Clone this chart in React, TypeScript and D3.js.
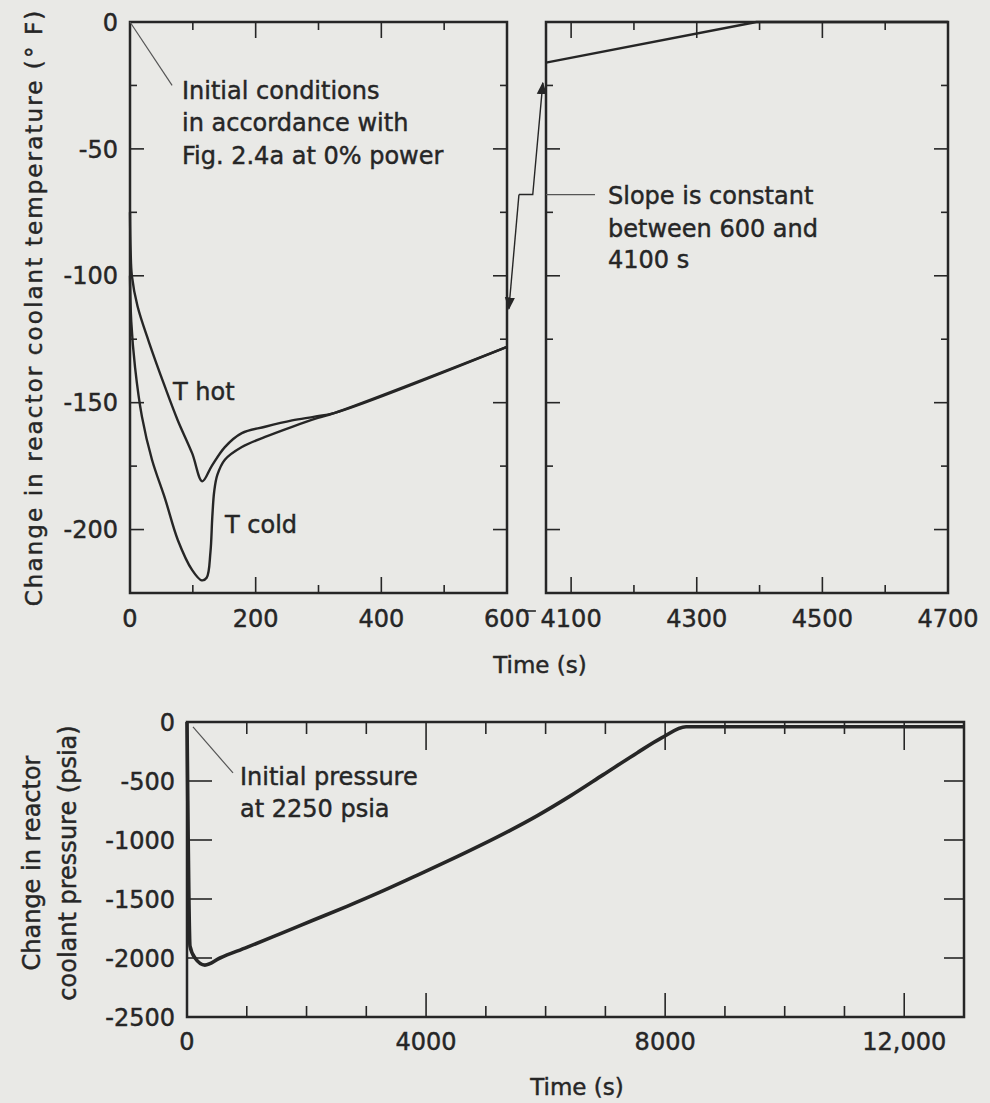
import React from 'react'
import * as d3 from 'd3'

// Temperature transient (time s, change °F)
const tHotData: [number, number][] = [
  [0, -75], [1, -90], [3, -100], [12, -112], [30, -126], [56, -144], [76, -157],
  [99, -170], [115, -181], [130, -175], [151, -167.5], [178, -162], [215, -159.5],
  [258, -157], [294, -155.5], [326, -154], [600, -128],
]
const tColdData: [number, number][] = [
  [0, -100], [2, -118], [8, -136], [19, -155.5], [35, -172.5], [56, -188], [76, -204],
  [99, -216], [114, -220], [122, -219], [128, -209], [131, -195], [134, -185],
  [139, -178.5], [151, -172.5], [178, -167.5], [215, -163.5], [258, -159.5],
  [299, -156], [326, -154], [600, -128],
]
const lateTempData: [number, number][] = [[4060, -16], [4395, 0], [4700, 0]]

// Pressure transient (time s, change psia)
const pressureData: [number, number][] = [
  [0, 0], [10, -500], [20, -1000], [32, -1500], [50, -1900], [134, -2000], [300, -2060],
  [552, -2000], [1000, -1910], [1556, -1795], [2108, -1680], [2677, -1562], [3229, -1442],
  [3781, -1315], [4350, -1182], [4900, -1048], [5400, -920], [5856, -795], [6408, -628],
  [6960, -448], [7529, -262], [7947, -132], [8350, -40], [13000, -40],
]

const leftXTicks = [0, 100, 200, 300, 400, 500, 600]
const leftXLabels = [0, 200, 400, 600]
const rightXTicks = [4100, 4200, 4300, 4400, 4500, 4600, 4700]
const rightXLabels = [4100, 4300, 4500, 4700]
const tempYTicks = [-25, -50, -75, -100, -125, -150, -175, -200]
const tempYLabels = [0, -50, -100, -150, -200]
const presXTicks = [1000, 2000, 3000, 4000, 5000, 6000, 7000, 8000, 9000, 10000, 11000, 12000]
const presXLabels = [0, 4000, 8000, 12000]
const presYTicks = [-500, -1000, -1500, -2000]
const presYLabels = [0, -500, -1000, -1500, -2000, -2500]

const INK = '#262626'
const BG = '#e9e9e6'
const FONT = '"DejaVu Sans", Verdana, sans-serif'

const W = 990
const H = 1103

// scanned print looks a touch heavier than the regular face
const txt = { fill: INK, stroke: INK, strokeWidth: 0.45 }

export default function App() {
  const xL = d3.scaleLinear().domain([0, 600]).range([130, 507])
  const xR = d3.scaleLinear().domain([4060, 4700]).range([546, 948])
  const yT = d3.scaleLinear().domain([-225, 0]).range([593, 22])
  const xP = d3.scaleLinear().domain([0, 13000]).range([187, 964])
  const yP = d3.scaleLinear().domain([-2500, 0]).range([1017, 722])

  const lineL = d3.line<[number, number]>()
    .x(d => xL(d[0])).y(d => yT(d[1]))
    .curve(d3.curveCatmullRom.alpha(0.5))
  const lineR = d3.line<[number, number]>().x(d => xR(d[0])).y(d => yT(d[1]))
  const lineP = d3.line<[number, number]>()
    .x(d => xP(d[0])).y(d => yP(d[1]))
    .curve(d3.curveMonotoneX)

  const tTopY = yT(0)
  const tBotY = yT(-225)

  const xLabelY = 627
  const fs = 24

  return (
    <svg
      width={W}
      height={H}
      style={{ position: 'absolute', left: 0, top: 0, background: BG }}
      fontFamily={FONT}
    >
      <defs>
        <marker id="ah" viewBox="0 0 10 10" refX="9" refY="5" markerWidth="9" markerHeight="9" orient="auto">
          <path d="M0,1 L10,5 L0,9 z" fill={INK} />
        </marker>
      </defs>
      <rect width={W} height={H} fill={BG} />

      {/* ---------- top left panel ---------- */}
      <rect x={xL(0)} y={tTopY} width={xL(600) - xL(0)} height={tBotY - tTopY}
        fill="none" stroke={INK} strokeWidth={2.5} />
      {leftXTicks.map(t => {
        const len = t % 200 === 0 ? 16 : 8
        return (
          <g key={'lx' + t} stroke={INK} strokeWidth={1.6}>
            <line x1={xL(t)} x2={xL(t)} y1={tBotY} y2={tBotY - len} />
            <line x1={xL(t)} x2={xL(t)} y1={tTopY} y2={tTopY + len} />
          </g>
        )
      })}
      {tempYTicks.map(v => {
        const len = v % 50 === 0 ? 14 : 7
        return (
          <g key={'ly' + v} stroke={INK} strokeWidth={1.6}>
            <line x1={xL(0)} x2={xL(0) + len} y1={yT(v)} y2={yT(v)} />
            <line x1={xL(600)} x2={xL(600) - len} y1={yT(v)} y2={yT(v)} />
          </g>
        )
      })}
      {tempYLabels.map(v => (
        <text key={'lyl' + v} x={118} y={yT(v)} dy="0.36em" textAnchor="end" fontSize={fs} {...txt}>
          {v}
        </text>
      ))}
      {leftXLabels.map(t => (
        <text key={'lxl' + t} x={xL(t)} y={xLabelY} textAnchor="middle" fontSize={fs} {...txt}>
          {t}
        </text>
      ))}

      <path d={lineL(tHotData) ?? ''} fill="none" stroke={INK} strokeWidth={2.4} />
      <path d={lineL(tColdData) ?? ''} fill="none" stroke={INK} strokeWidth={2.4} />

      <text x={173} y={400} fontSize={fs} {...txt}>T hot</text>
      <text x={225} y={533} fontSize={fs} {...txt}>T cold</text>

      <line x1={xL(0)} y1={yT(0)} x2={xL(67)} y2={yT(-25)} stroke="#555" strokeWidth={1.2} />
      <text fontSize={fs} {...txt}>
        <tspan x={182} y={99}>Initial conditions</tspan>
        <tspan x={182} y={131}>in accordance with</tspan>
        <tspan x={182} y={164}>Fig. 2.4a at 0% power</tspan>
      </text>

      {/* ---------- top right panel ---------- */}
      <rect x={xR(4060)} y={tTopY} width={xR(4700) - xR(4060)} height={tBotY - tTopY}
        fill="none" stroke={INK} strokeWidth={2.5} />
      {rightXTicks.map(t => {
        const len = t % 200 === 100 ? 16 : 8
        return (
          <g key={'rx' + t} stroke={INK} strokeWidth={1.6}>
            <line x1={xR(t)} x2={xR(t)} y1={tBotY} y2={tBotY - len} />
            <line x1={xR(t)} x2={xR(t)} y1={tTopY} y2={tTopY + len} />
          </g>
        )
      })}
      {tempYTicks.map(v => {
        const len = v % 50 === 0 ? 14 : 7
        return (
          <g key={'ry' + v} stroke={INK} strokeWidth={1.6}>
            <line x1={xR(4060)} x2={xR(4060) + len} y1={yT(v)} y2={yT(v)} />
            <line x1={xR(4700)} x2={xR(4700) - len} y1={yT(v)} y2={yT(v)} />
          </g>
        )
      })}
      {rightXLabels.map(t => (
        <text key={'rxl' + t} x={xR(t)} y={xLabelY} textAnchor="middle" fontSize={fs} {...txt}>
          {t}
        </text>
      ))}
      <path d={lineR(lateTempData) ?? ''} fill="none" stroke={INK} strokeWidth={2.5} />

      {/* break marker between 600 and 4100 */}
      <line x1={xL(630)} x2={xL(646)} y1={611} y2={611} stroke={INK} strokeWidth={1.6} />

      {/* slope annotation with arrows across the break */}
      <polyline
        points={[
          [xL(619), yT(-68)], [xL(603), yT(-113)],
        ].map(p => p.join(',')).join(' ')}
        fill="none" stroke={INK} strokeWidth={1.4} markerEnd="url(#ah)" />
      <polyline
        points={[
          [xL(619), yT(-68)], [xL(641), yT(-68)], [xL(657), yT(-24)],
        ].map(p => p.join(',')).join(' ')}
        fill="none" stroke={INK} strokeWidth={1.4} markerEnd="url(#ah)" />
      <line x1={xR(4060)} x2={xR(4138)} y1={yT(-68)} y2={yT(-68)} stroke="#555" strokeWidth={1.2} />
      <text fontSize={fs} {...txt}>
        <tspan x={608} y={204}>Slope is constant</tspan>
        <tspan x={608} y={237}>between 600 and</tspan>
        <tspan x={608} y={268}>4100 s</tspan>
      </text>

      <text x={540} y={673} textAnchor="middle" fontSize={fs - 1} {...txt}>Time (s)</text>
      <text transform={`translate(42, ${(tTopY + tBotY) / 2}) rotate(-90)`} textAnchor="middle"
        fontSize={23} letterSpacing={2.1} {...txt}>
        Change in reactor coolant temperature (° F)
      </text>

      {/* ---------- pressure panel ---------- */}
      <rect x={xP(0)} y={yP(0)} width={xP(13000) - xP(0)} height={yP(-2500) - yP(0)}
        fill="none" stroke={INK} strokeWidth={2.5} />
      {presXTicks.map(t => {
        const major = t % 4000 === 0
        return (
          <g key={'px' + t} stroke={INK} strokeWidth={1.6}>
            <line x1={xP(t)} x2={xP(t)} y1={yP(-2500)} y2={yP(-2500) - (major ? 24 : 11)} />
            <line x1={xP(t)} x2={xP(t)} y1={yP(0)} y2={yP(0) + (major ? 28 : 12)} />
          </g>
        )
      })}
      {presYTicks.map(v => (
        <g key={'py' + v} stroke={INK} strokeWidth={1.6}>
          <line x1={xP(0)} x2={xP(0) + 25} y1={yP(v)} y2={yP(v)} />
          <line x1={xP(13000)} x2={xP(13000) - 20} y1={yP(v)} y2={yP(v)} />
        </g>
      ))}
      {presYLabels.map(v => (
        <text key={'pyl' + v} x={175} y={yP(v)} dy="0.36em" textAnchor="end" fontSize={fs} {...txt}>
          {v}
        </text>
      ))}
      {presXLabels.map(t => (
        <text key={'pxl' + t} x={xP(t)} y={1050} textAnchor="middle" fontSize={fs} {...txt}>
          {t === 12000 ? '12,000' : t}
        </text>
      ))}
      <path d={lineP(pressureData) ?? ''} fill="none" stroke={INK} strokeWidth={3.6} />

      <line x1={xP(100)} y1={yP(-42)} x2={xP(770)} y2={yP(-432)} stroke="#555" strokeWidth={1.2} />
      <text fontSize={fs} {...txt}>
        <tspan x={240} y={785}>Initial pressure</tspan>
        <tspan x={240} y={817}>at 2250 psia</tspan>
      </text>

      <text x={577} y={1095} textAnchor="middle" fontSize={fs - 1} {...txt}>Time (s)</text>
      <text transform="translate(40, 863) rotate(-90)" textAnchor="middle" fontSize={24} {...txt}>
        Change in reactor
      </text>
      <text transform="translate(76, 863) rotate(-90)" textAnchor="middle" fontSize={24} {...txt}>
        coolant pressure (psia)
      </text>
    </svg>
  )
}
